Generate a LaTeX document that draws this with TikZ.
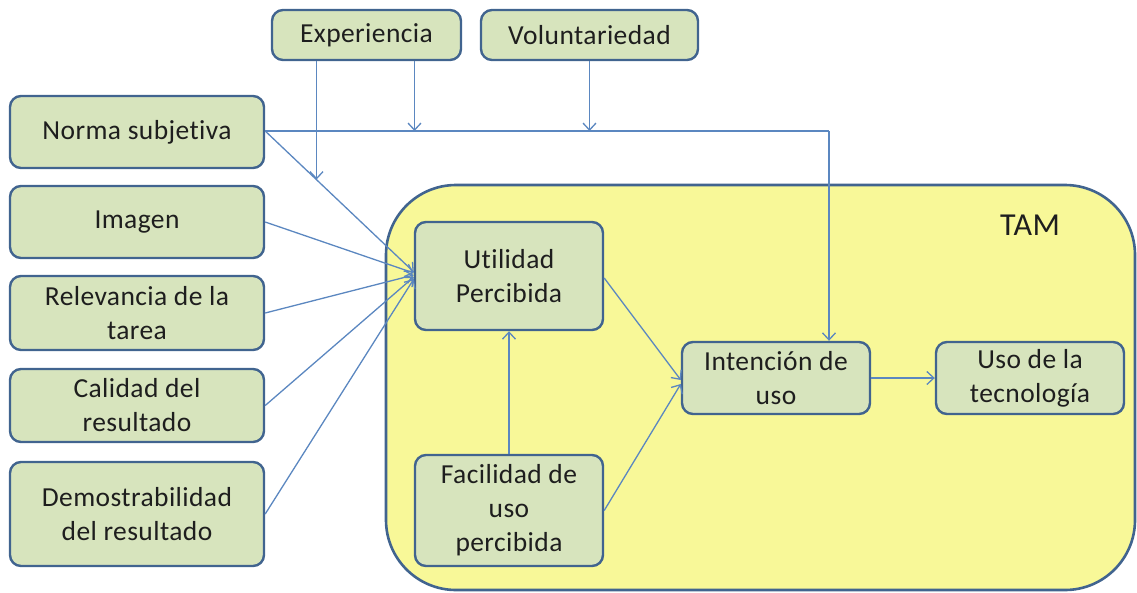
\documentclass[tikz,border=0pt]{standalone}
\usepackage{fontspec}
\setmainfont{Carlito}[Ligatures=NoCommon,LetterSpace=1.5]
\usetikzlibrary{arrows.meta,calc}
\definecolor{boxfill}{HTML}{D7E4BD}
\definecolor{boxline}{HTML}{41648F}
\definecolor{tamfill}{HTML}{F8F898}
\definecolor{arr}{HTML}{5B87C0}
\definecolor{txt}{HTML}{1E1E1E}
\begin{document}
\begin{tikzpicture}[x=1pt,y=-1pt,
  gbox/.style={draw=boxline,fill=boxfill,line width=2.4pt,rounded corners=11pt,
    inner sep=0pt,align=center,text=txt,font=\fontsize{27.5}{34}\selectfont},
  conn/.style={draw=arr,line width=1.3pt,-{Straight Barb[length=7pt,width=13pt,line width=1.3pt]}},
  plain/.style={draw=arr,line width=1.3pt}]
\useasboundingbox (0,0) rectangle (1137,592);
% TAM container
\draw[draw=boxline,fill=tamfill,line width=2.6pt,rounded corners=70pt] (386,185) rectangle (1135,590);
\node[text=txt,font=\fontsize{32}{36}\selectfont] (tam) at (1030,225) {TAM};
% outer boxes
\node[gbox,minimum width=189pt,minimum height=50pt] (exp) at (366.5,35) {Experiencia};
\node[gbox,minimum width=217pt,minimum height=50pt] (vol) at (589.5,35) {Voluntariedad};
\node[gbox,minimum width=254pt,minimum height=72pt] (ns) at (137,132) {Norma subjetiva};
\node[gbox,minimum width=254pt,minimum height=72pt] (img) at (137,222) {Imagen};
\node[gbox,minimum width=254pt,minimum height=74pt] (rel) at (137,313) {Relevancia de la\\tarea};
\node[gbox,minimum width=254pt,minimum height=73pt] (cal) at (137,405.5) {Calidad del\\resultado};
\node[gbox,minimum width=254pt,minimum height=104pt] (dem) at (137,514) {Demostrabilidad\\del resultado};
% TAM boxes
\node[gbox,minimum width=188pt,minimum height=108pt] (up) at (509,276) {Utilidad\\Percibida};
\node[gbox,minimum width=188pt,minimum height=111pt] (fu) at (509,510.5) {Facilidad de\\uso\\percibida};
\node[gbox,minimum width=188pt,minimum height=72pt] (iu) at (776,378) {Intención de\\uso};
\node[gbox,minimum width=188pt,minimum height=72pt] (ut) at (1030,378) {Uso de la\\tecnología};
% coordinates
\coordinate (nsr) at ($(ns.east)+(0,-1)$);
\coordinate (upin) at ($(up.west)+(0,-4)$);
\coordinate (m1) at ($(nsr)!0.3444!(upin)$);
\coordinate (top) at ($(iu.north)+(53,0)$);
\coordinate (corner) at (nsr -| top);
\coordinate (h1) at ($(exp.south)+(48,0)$);
\coordinate (h1e) at (h1 |- nsr);
\coordinate (h2e) at (vol.south |- nsr);
% connectors
\draw[plain] (nsr) -- (corner);
\draw[conn] (corner) -- (top);
\draw[conn] ($(exp.south)+(-50,0)$) -- (m1 -| {$(exp.south)+(-50,0)$});
\draw[conn] (h1) -- (h1e);
\draw[conn] (vol.south) -- (h2e);
\draw[conn] (nsr) -- (upin);
\draw[conn] (img.east) -- ($(up.west)+(0,-3)$);
\draw[conn] (rel.east) -- ($(up.west)+(0,-1)$);
\draw[conn] (cal.east) -- ($(up.west)+(0,1)$);
\draw[conn] (dem.east) -- ($(up.west)+(0,3)$);
\draw[conn] (fu.north) -- (up.south);
\draw[conn] ($(up.east)+(0,2)$) -- ($(iu.west)+(0,2)$);
\draw[conn] (fu.east) -- ($(iu.west)+(0,6)$);
\draw[conn] (iu.east) -- (ut.west);
\end{tikzpicture}
\end{document}
